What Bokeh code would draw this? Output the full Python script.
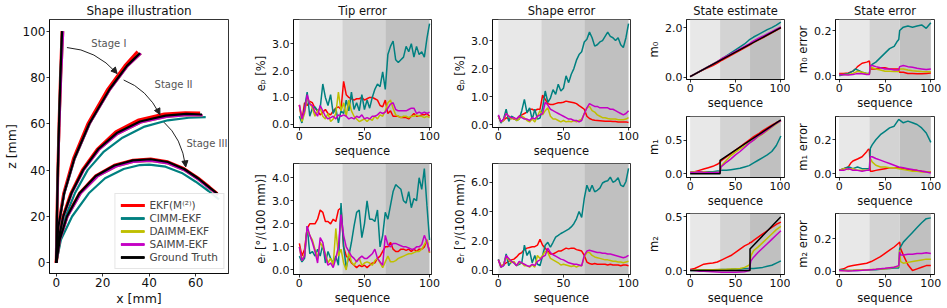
from bokeh.plotting import figure
from bokeh.layouts import row, column
from bokeh.models import BoxAnnotation, FixedTicker, PrintfTickFormatter, Label, Range1d, Arrow, NormalHead
from bokeh.embed import file_html
from bokeh.resources import INLINE

FONT = "DejaVu Sans"
RED, TEAL, YEL, MAG, BLK = "#ff0000", "#008080", "#bfbf00", "#c400c4", "#000000"
NAMES = ["EKF(M⁽²⁾)", "CIMM-EKF", "DAIMM-EKF", "SAIMM-EKF", "Ground Truth"]
STAGE_EDGES = [0, 33, 66, 100]
STAGE_FILLS = ["#e8e8e8", "#d3d3d3", "#c0c0c0"]
SEQ_TICKS = [0, 50, 100]

# ---------------- time series on a 2-step grid ----------------
SEQ2 = list(range(0, 101, 2))

TIP_P_EKF = [0.72,0.16,0.80,0.70,0.85,0.80,0.60,0.50,0.35,0.45,
             0.55,0.40,0.35,0.50,0.60,0.65,0.55,1.60,1.10,1.00,
             0.95,0.90,0.95,0.95,1.00,0.90,0.95,1.00,1.00,0.95,
             0.90,0.70,0.65,0.90,0.40,0.50,0.30,0.30,0.30,0.25,
             0.25,0.25,0.20,0.30,0.40,0.30,0.30,0.35,0.35,0.40, 0.30]
TIP_P_CIMM = [0.30,0.05,0.60,1.20,0.30,0.60,0.65,0.50,0.60,1.50,
              1.00,0.70,1.10,0.40,0.60,0.05,0.50,0.40,0.90,0.50,
              1.20,0.55,0.80,0.50,1.10,0.55,0.90,0.60,1.00,1.30,
              1.50,1.40,1.95,1.30,2.60,2.90,3.10,2.40,2.30,2.40,
              2.50,2.90,2.70,3.00,2.50,2.90,2.60,2.70,2.50,3.20, 3.75]
TIP_P_DAIMM = [0.70,0.10,0.40,1.00,0.80,0.60,0.30,0.50,0.60,0.30,
               0.20,0.40,0.10,0.20,0.40,1.20,0.50,0.80,0.30,0.90,
               0.50,0.30,0.20,0.10,0.15,0.20,0.10,0.20,0.15,0.30,
               0.20,0.35,0.30,0.50,0.80,0.90,0.60,0.35,0.30,0.25,
               0.30,0.30,0.25,0.30,0.30,0.35,0.30,0.30,0.25,0.30, 0.25]
TIP_P_SAIMM = [0.72,0.20,0.50,1.10,0.75,0.70,0.45,0.30,0.70,0.50,
               0.30,0.20,0.25,0.30,0.20,0.35,0.30,0.35,0.30,0.20,
               0.25,0.20,0.30,0.25,0.35,0.20,0.25,0.20,0.30,0.30,
               0.35,0.45,0.40,0.45,0.60,0.75,0.80,0.55,0.50,0.50,
               0.50,0.50,0.55,0.60,0.60,0.40,0.45,0.40,0.45,0.40, 0.45]

TIP_R_EKF = [1.15,0.60,0.90,1.80,2.00,2.00,2.00,2.20,2.60,2.50,
             2.10,2.10,2.00,2.20,2.10,2.60,2.70,1.00,0.60,0.50,
             0.30,0.20,0.10,0.20,0.15,0.20,0.10,0.20,0.30,0.30,
             0.50,0.60,0.80,1.00,1.00,1.20,0.90,0.80,0.80,0.90,
             0.90,0.85,0.90,0.80,0.90,0.80,0.90,0.90,1.00,1.30, 0.75]
TIP_R_CIMM = [0.60,0.35,0.50,1.90,0.70,0.80,0.60,0.90,0.60,1.10,
              0.30,0.80,0.50,0.30,0.60,0.20,2.90,1.00,0.10,0.60,
              1.20,1.90,2.50,2.60,1.40,2.00,3.00,2.20,2.20,2.10,
              2.60,1.00,1.50,2.50,2.20,2.80,3.40,3.70,3.60,3.50,
              3.00,2.90,3.40,2.70,3.10,3.00,4.00,3.50,4.40,2.80, 1.30]
TIP_R_DAIMM = [1.00,0.40,0.70,1.80,1.50,1.30,0.90,0.50,1.20,1.00,
               0.70,0.30,0.50,0.20,1.80,0.60,0.90,0.30,0.00,0.80,
               0.35,0.20,0.40,0.50,0.20,0.30,0.35,0.30,0.20,0.40,
               0.50,0.30,0.10,0.35,0.60,0.35,0.35,0.40,0.50,0.55,
               0.60,0.65,0.70,0.70,0.75,0.80,0.80,0.90,1.10,1.30, 0.75]
TIP_R_SAIMM = [1.00,0.40,0.60,1.90,1.50,1.20,0.80,0.30,1.40,1.20,
               0.60,0.20,0.30,0.10,0.50,1.00,2.40,1.50,1.00,0.80,
               0.60,0.50,0.35,0.50,0.60,0.50,0.50,0.60,0.70,0.90,
               0.50,0.35,0.20,1.50,1.10,1.00,1.15,1.15,1.10,1.05,
               1.00,1.00,0.95,0.90,0.90,1.00,1.00,1.10,1.50,1.20, 0.80]

SHP_P_EKF = [0.30,0.10,0.15,0.25,0.20,0.25,0.20,0.20,0.30,0.35,
             0.40,0.45,0.55,0.55,0.50,0.55,0.55,1.05,0.90,0.75,
             0.72,0.72,0.75,0.78,0.78,0.80,0.84,0.82,0.80,0.78,
             0.75,0.68,0.62,0.55,0.30,0.22,0.18,0.16,0.15,0.14,
             0.13,0.12,0.12,0.12,0.11,0.11,0.10,0.10,0.10,0.10, 0.08]
SHP_P_CIMM = [0.32,0.06,0.20,0.55,0.12,0.30,0.25,0.15,0.20,0.50,
              0.90,0.42,0.60,0.18,0.55,0.20,0.24,0.60,1.20,0.80,
              0.95,1.25,1.08,1.44,1.20,1.30,1.74,1.50,1.80,2.00,
              2.30,2.50,2.60,2.95,3.05,3.30,3.10,2.80,2.85,2.95,
              3.00,3.15,3.30,3.15,3.10,3.00,3.10,2.85,2.75,3.10, 3.60]
SHP_P_DAIMM = [0.30,0.10,0.15,0.40,0.30,0.20,0.25,0.15,0.20,0.30,
               0.25,0.15,0.10,0.20,0.10,0.30,0.50,0.35,0.50,0.60,
               0.30,0.20,0.20,0.15,0.10,0.15,0.10,0.12,0.10,0.15,
               0.10,0.15,0.20,0.40,0.60,0.65,0.50,0.45,0.35,0.30,
               0.25,0.25,0.22,0.20,0.20,0.20,0.18,0.18,0.18,0.20, 0.25]
SHP_P_SAIMM = [0.35,0.10,0.20,0.40,0.30,0.25,0.25,0.20,0.30,0.25,
               0.20,0.20,0.15,0.25,0.20,0.30,0.35,0.40,0.80,0.70,
               0.55,0.50,0.45,0.40,0.35,0.30,0.25,0.20,0.20,0.15,
               0.15,0.10,0.15,0.40,0.60,0.75,0.70,0.65,0.65,0.60,
               0.60,0.60,0.60,0.55,0.55,0.50,0.45,0.40,0.35,0.40, 0.50]

SHP_R_EKF = [0.70,0.30,0.35,0.50,0.60,0.70,0.75,0.90,1.10,1.20,
             1.40,1.50,1.55,1.60,1.60,1.70,2.10,1.70,1.50,1.30,
             1.10,1.10,1.20,1.30,1.30,1.40,1.50,1.45,1.50,1.50,
             1.40,1.35,1.30,1.00,0.55,0.45,0.40,0.45,0.40,0.40,
             0.40,0.40,0.35,0.40,0.35,0.35,0.35,0.30,0.35,0.35, 0.30]
SHP_R_CIMM = [0.75,0.20,0.30,1.10,0.30,0.60,0.50,0.30,0.40,0.50,
              1.70,1.00,1.33,0.50,1.00,0.40,0.30,1.00,1.70,1.90,
              1.56,1.90,2.25,2.37,2.50,2.60,2.70,2.80,2.95,3.17,
              3.50,4.00,3.60,4.90,5.80,5.35,5.80,5.35,5.45,5.60,
              5.95,6.05,6.10,6.35,6.00,6.10,6.30,5.80,5.70,6.05, 6.95]
SHP_R_DAIMM = [0.70,0.20,0.40,0.90,0.70,0.50,0.60,0.30,0.50,0.50,
               0.30,0.30,0.20,0.35,0.20,1.00,0.80,1.00,1.30,1.20,
               0.80,0.70,0.60,0.50,0.35,0.40,0.35,0.30,0.25,0.30,
               0.20,0.30,0.30,0.90,1.20,1.20,1.00,0.90,0.85,0.80,
               0.75,0.70,0.70,0.65,0.60,0.60,0.55,0.55,0.50,0.55, 0.60]
SHP_R_SAIMM = [0.70,0.20,0.30,1.00,0.80,0.60,0.50,0.30,0.60,0.50,
               0.40,0.30,0.25,0.40,0.30,0.60,0.70,0.90,1.00,1.50,
               1.20,1.05,0.95,0.85,0.75,0.70,0.60,0.50,0.45,0.40,
               0.40,0.35,0.30,1.00,1.30,1.35,1.30,1.25,1.20,1.20,
               1.15,1.15,1.10,1.10,1.05,1.00,0.95,0.90,0.85,0.90, 1.00]

# ---------------- state estimates ----------------
M0_SEQ = list(range(0, 101, 5))
M0_GT_SEQ = [0, 100]
M0_GT = [0.02, 2.0]
M0_EKF = [0.02,0.11,0.21,0.30,0.38,0.46,0.56,0.68,0.78,0.88,0.98,1.08,1.18,1.28,1.40,1.50,1.59,1.69,1.79,1.89,1.99]
M0_CIMM = [0.02,0.12,0.22,0.32,0.42,0.52,0.62,0.74,0.86,0.98,1.10,1.22,1.34,1.50,1.62,1.72,1.82,1.92,2.00,2.10,2.22]
M0_DAIMM = [0.02,0.12,0.22,0.32,0.42,0.52,0.62,0.74,0.83,0.93,1.02,1.12,1.22,1.32,1.43,1.53,1.63,1.72,1.82,1.92,2.02]
M0_SAIMM = [0.02,0.12,0.22,0.32,0.42,0.52,0.62,0.75,0.84,0.94,1.04,1.14,1.24,1.34,1.46,1.56,1.65,1.75,1.84,1.94,2.03]

M1_SEQ = [0,5,10,15,20,25,30,33,34,40,45,50,55,60,65,70,75,80,85,90,95,100]
M1_GT_SEQ = [0, 33, 33, 100]
M1_GT = [0.0, 0.0, 0.2, 0.8]
M1_EKF = [0.02,0.03,0.05,0.07,0.09,0.11,0.14,0.17,0.19,0.25,0.30,0.35,0.40,0.45,0.50,0.55,0.59,0.64,0.68,0.72,0.76,0.79]
M1_CIMM = [0.02,0.03,0.03,0.03,0.03,0.03,0.04,0.04,0.05,0.05,0.06,0.07,0.08,0.10,0.12,0.16,0.20,0.24,0.28,0.33,0.42,0.56]
M1_DAIMM = [0.02,0.03,0.02,0.03,0.02,0.02,0.02,0.02,0.11,0.20,0.27,0.32,0.37,0.41,0.46,0.50,0.55,0.59,0.64,0.69,0.74,0.79]
M1_SAIMM = [0.02,0.02,0.03,0.02,0.02,0.015,0.02,0.02,0.10,0.17,0.22,0.28,0.33,0.39,0.45,0.50,0.56,0.60,0.65,0.70,0.75,0.79]

M2_SEQ = [0,5,10,15,20,25,30,35,40,45,50,55,60,65,66,67,70,75,80,85,90,95,100]
M2_GT_SEQ = [0, 66, 66, 100]
M2_GT = [0.0, 0.0, 0.2, 0.5]
M2_EKF = [0.01,0.02,0.04,0.06,0.065,0.07,0.08,0.10,0.12,0.14,0.17,0.20,0.23,0.25,0.26,0.26,0.28,0.31,0.34,0.37,0.40,0.43,0.45]
M2_CIMM = [0.0,0.0,0.005,0.005,0.005,0.005,0.008,0.01,0.01,0.012,0.015,0.015,0.02,0.02,0.02,0.02,0.02,0.025,0.03,0.04,0.05,0.07,0.09]
M2_DAIMM = [0.005,0.005,0.005,0.005,0.008,0.008,0.01,0.01,0.012,0.015,0.015,0.02,0.03,0.05,0.07,0.14,0.185,0.22,0.26,0.30,0.34,0.38,0.41]
M2_SAIMM = [0.005,0.0,-0.005,-0.005,-0.008,-0.01,-0.012,-0.015,-0.015,-0.015,-0.015,-0.012,-0.01,0.0,0.05,0.09,0.125,0.17,0.21,0.25,0.29,0.33,0.37]

# ---------------- state errors ----------------
E0_SEQ = [0,5,10,15,18,20,25,30,33,34,36,40,45,50,55,60,63,65,66,70,75,80,85,90,95,100]
E0_EKF = [0.01,0.01,0.012,0.02,0.03,0.04,0.055,0.06,0.065,0.03,0.03,0.03,0.035,0.035,0.03,0.03,0.03,0.03,0.015,0.015,0.01,0.01,0.008,0.008,0.01,0.012]
E0_CIMM = [0.0,0.005,0.01,0.02,0.03,0.025,0.015,0.01,0.01,0.04,0.05,0.06,0.08,0.10,0.12,0.13,0.15,0.16,0.20,0.215,0.22,0.215,0.22,0.225,0.21,0.235]
E0_DAIMM = [0.005,0.005,0.005,0.01,0.015,0.02,0.015,0.01,0.008,0.04,0.035,0.03,0.025,0.02,0.02,0.018,0.018,0.018,0.03,0.03,0.025,0.022,0.02,0.018,0.017,0.017]
E0_SAIMM = [0.005,0.004,0.003,0.005,0.008,0.01,0.008,0.005,0.005,0.045,0.045,0.04,0.035,0.03,0.03,0.025,0.025,0.025,0.04,0.045,0.04,0.037,0.033,0.03,0.027,0.03]

E1_SEQ = [0,5,10,13,15,20,25,30,32,33,34,36,40,45,50,55,60,65,70,75,80,85,90,95,100]
E1_EKF = [0.02,0.03,0.04,0.065,0.075,0.087,0.10,0.13,0.145,0.14,0.015,0.015,0.02,0.025,0.03,0.035,0.035,0.035,0.03,0.025,0.02,0.02,0.015,0.012,0.01]
E1_CIMM = [0.02,0.03,0.04,0.035,0.03,0.04,0.03,0.03,0.03,0.03,0.15,0.17,0.20,0.23,0.25,0.27,0.28,0.32,0.30,0.31,0.30,0.29,0.27,0.24,0.185]
E1_DAIMM = [0.02,0.03,0.025,0.03,0.03,0.02,0.02,0.02,0.02,0.02,0.09,0.07,0.05,0.04,0.04,0.035,0.035,0.03,0.025,0.02,0.015,0.015,0.01,0.01,0.01]
E1_SAIMM = [0.02,0.02,0.03,0.025,0.02,0.02,0.015,0.02,0.02,0.02,0.10,0.10,0.09,0.08,0.07,0.06,0.05,0.04,0.035,0.03,0.025,0.02,0.015,0.01,0.005]

E2_SEQ = [0,5,10,15,20,25,30,35,40,45,50,55,60,65,66,67,70,75,80,85,90,95,100]
E2_EKF = [0.01,0.015,0.03,0.035,0.04,0.045,0.05,0.06,0.075,0.09,0.11,0.13,0.15,0.175,0.18,0.14,0.10,0.04,0.005,0.015,0.025,0.035,0.035]
E2_CIMM = [0.01,0.008,0.005,0.005,0.005,0.006,0.008,0.009,0.01,0.012,0.015,0.017,0.02,0.02,0.14,0.15,0.18,0.21,0.24,0.27,0.30,0.325,0.33]
E2_DAIMM = [0.005,0.005,0.005,0.006,0.008,0.009,0.01,0.011,0.012,0.014,0.015,0.02,0.025,0.03,0.13,0.06,0.05,0.055,0.06,0.065,0.07,0.075,0.075]
E2_SAIMM = [0.005,0.003,0.002,0.003,0.005,0.006,0.008,0.01,0.012,0.015,0.018,0.022,0.025,0.035,0.12,0.10,0.10,0.105,0.105,0.11,0.11,0.115,0.11]

# ---------------- shape illustration (4 stages per method) ----------------
GT_X = [[0,0.3,0.7,1.2,1.8,2.5],
        [0,0.8,3.4,7.8,14.2,23.0,30.4,36.0],
        [0,1,3,6.5,11.5,18,26,36,47,56,62.7],
        [0,1.5,4.6,10,17,25,33,40.6,48,55,61,66,69.5]]
GT_Z = [[0,20,40,60,80,100],
        [0,15,30,45,60,75,85,90.5],
        [0,10,20,30,40,49,56,61,63.5,64.3,64],
        [0,10,20,30,37.5,42,44.2,44.7,43.5,40.5,36.5,32.5,29.7]]
EKF_X = [[0,0.3,0.7,1.2,1.8,2.5],
         [0,0.8,3.2,7.4,13.6,22.2,29.5,35.0],
         [0,1,2.9,6.3,11.2,17.6,25.6,35.5,46.5,55.5,61.9],
         [0,1.5,4.6,10,17,25,33,40.6,48,55,61,66,69.3]]
EKF_Z = [[0,20,40,60,80,100],
         [0,15,30,45,60,75,85,91.2],
         [0,10,20,30,40,49,56.5,61.7,64.2,64.8,64.7],
         [0,10,20,30,37.6,42.1,44.3,44.8,43.6,40.6,36.6,32.6,29.9]]
CIMM_X = [[0,0.3,0.7,1.2,1.8,2.5],
          [0,0.85,3.5,8.0,14.4,23.2,30.6,36.2],
          [0,1.3,4,8,13.5,20.5,28.5,38,48,57,64.3],
          [0,2,6.8,14,21,29,36,40,47,54,60,65.5,70]]
CIMM_Z = [[0,20,40,60,80,99.8],
          [0,15,30,45,60,75,85,90.3],
          [0,10,20,30,40,48,54,58.8,61.5,62.6,62.9],
          [0,10,20,30,36.5,40.5,42.2,42.4,41.5,38.8,35,31,27.4]]
DAIMM_X = [[0,0.35,0.8,1.4,2.1,3.0],
           [0,0.8,3.4,7.9,14.4,23.3,30.8,36.5],
           [0,1,3.1,6.7,11.8,18.4,26.4,36.4,47.4,56.4,63],
           [0,1.6,4.9,10.6,17.8,25.8,33.5,40.6,48,55,61,66,69.5]]
DAIMM_Z = [[0,20,40,60,80,100],
           [0,15,30,45,60,75,85,90.3],
           [0,10,20,30,40,48.8,55.6,60.6,63,63.7,63.6],
           [0,10,20,30,37.3,41.6,43.6,44.0,42.9,40,36,32,29.2]]
SAIMM_X = [[0,0.35,0.8,1.4,2.1,3.0],
           [0,0.8,3.4,7.9,14.4,23.3,30.8,36.5],
           [0,1,3.1,6.7,11.8,18.4,26.4,36.4,47.4,56.4,63],
           [0,1.6,4.9,10.6,17.8,25.8,33.5,40.6,48,55,61,66,69.6]]
SAIMM_Z = [[0,20,40,60,80,100],
           [0,15,30,45,60,75,85,90.3],
           [0,10,20,30,40,48.8,55.6,60.6,63,63.7,63.6],
           [0,10,20,30,37.3,41.6,43.6,44.0,42.9,40,36,32,29.3]]

STAGE_LABELS = ["Stage I", "Stage II", "Stage III"]
STAGE_LX = [15.1, 42.3, 56.0]
STAGE_LZ = [94.6, 77.0, 51.7]
ARROW_X0 = [4.6, 29.0, 46.3]
ARROW_Z0 = [92.9, 78.9, 60.7]
ARROW_X1 = [26.2, 44.6, 55.7]
ARROW_Z1 = [81.7, 64.0, 41.4]
ARROW_CX = [17.0, 39.0, 54.0]
ARROW_CZ = [92.0, 75.0, 54.0]


def base_fig(w, h, bl, br, bt, bb, xr, yr, tick_fs, lab_fs, title=None, title_fs="12px"):
    p = figure(width=w, height=h, x_range=Range1d(*xr), y_range=Range1d(*yr),
               output_backend="svg", toolbar_location=None,
               min_border_left=bl, min_border_right=br,
               min_border_top=bt, min_border_bottom=bb)
    if title:
        p.title.text = title
        p.title.text_font = FONT
        p.title.text_font_size = title_fs
        p.title.text_font_style = "normal"
        p.title.text_color = "#111111"
        p.title.align = "center"
        p.title.standoff = 3
    p.xgrid.visible = False
    p.ygrid.visible = False
    p.outline_line_color = "black"
    p.outline_line_width = 0.8
    p.outline_line_alpha = 1.0
    for ax in p.axis:
        ax.axis_line_color = "black"
        ax.axis_line_width = 0.8
        ax.major_tick_line_color = "black"
        ax.major_tick_line_width = 0.8
        ax.major_tick_out = 3
        ax.major_tick_in = 0
        ax.minor_tick_line_color = None
        ax.major_label_text_font = FONT
        ax.major_label_text_font_size = tick_fs
        ax.major_label_text_color = "#111111"
        ax.axis_label_text_font = FONT
        ax.axis_label_text_font_size = lab_fs
        ax.axis_label_text_font_style = "normal"
        ax.axis_label_text_color = "#111111"
        ax.major_label_standoff = 1
        ax.axis_label_standoff = 1
    return p


def ts_fig(w, h, bl, br, bt, bb, xr, yr, yticks, yfmt, ylabel, title=None):
    p = base_fig(w, h, bl, br, bt, bb, xr, yr, "11px", "11.5px", title, "11.5px")
    for i in range(3):
        p.add_layout(BoxAnnotation(left=STAGE_EDGES[i], right=STAGE_EDGES[i + 1],
                                   fill_color=STAGE_FILLS[i], fill_alpha=1.0,
                                   line_alpha=0, level="underlay"))
    p.xaxis.ticker = FixedTicker(ticks=SEQ_TICKS)
    p.yaxis.ticker = FixedTicker(ticks=yticks)
    p.yaxis.formatter = PrintfTickFormatter(format=yfmt)
    p.xaxis.axis_label = "sequence"
    p.yaxis.axis_label = ylabel
    return p


def draw_series(p, xs, series, lw=1.5):
    for ys, c in zip(series, [RED, TEAL, YEL, MAG]):
        p.line(xs, ys, color=c, line_width=lw)


XR_ERR = (-4.5, 101.5)
XR_ST = (-4.0, 104.0)

# column 2: tip error
tip_p = ts_fig(200, 160, 53, 9, 19, 32, XR_ERR, (-0.12, 3.9), [0, 1, 2, 3], "%.1f", "eₚ [%]", "Tip error")
draw_series(tip_p, SEQ2, [TIP_P_EKF, TIP_P_CIMM, TIP_P_DAIMM, TIP_P_SAIMM])
tip_r = ts_fig(200, 148, 53, 9, 3, 34, XR_ERR, (-0.2, 4.62), [0, 1, 2, 3, 4], "%.1f", "eᵣ [°/(100 mm)]")
draw_series(tip_r, SEQ2, [TIP_R_EKF, TIP_R_CIMM, TIP_R_DAIMM, TIP_R_SAIMM])

# column 3: shape error
shp_p = ts_fig(200, 160, 52, 10, 19, 32, XR_ERR, (-0.1, 3.75), [0, 1, 2, 3], "%.1f", "eₚ [%]", "Shape error")
draw_series(shp_p, SEQ2, [SHP_P_EKF, SHP_P_CIMM, SHP_P_DAIMM, SHP_P_SAIMM])
shp_r = ts_fig(200, 148, 52, 10, 3, 34, XR_ERR, (-0.3, 7.28), [0, 2, 4, 6], "%.1f", "eᵣ [°/(100 mm)]")
draw_series(shp_r, SEQ2, [SHP_R_EKF, SHP_R_CIMM, SHP_R_DAIMM, SHP_R_SAIMM])

# column 4: state estimate
st0 = ts_fig(150, 112, 46, 6, 19, 29, XR_ST, (-0.1, 2.33), [0, 2], "%.1f", "m₀", "State estimate")
draw_series(st0, M0_SEQ, [M0_EKF, M0_CIMM, M0_DAIMM, M0_SAIMM])
st0.line(M0_GT_SEQ, M0_GT, color=BLK, line_width=1.5)
st1 = ts_fig(150, 98, 46, 6, 4, 31, XR_ST, (-0.056, 0.85), [0, 0.5], "%.1f", "m₁")
draw_series(st1, M1_SEQ, [M1_EKF, M1_CIMM, M1_DAIMM, M1_SAIMM])
st1.line(M1_GT_SEQ, M1_GT, color=BLK, line_width=1.5)
st2 = ts_fig(150, 98, 46, 6, 3, 34, XR_ST, (-0.036, 0.53), [0, 0.5], "%.1f", "m₂")
draw_series(st2, M2_SEQ, [M2_EKF, M2_CIMM, M2_DAIMM, M2_SAIMM])
st2.line(M2_GT_SEQ, M2_GT, color=BLK, line_width=1.5)

# column 5: state error
er0 = ts_fig(157, 112, 45, 13, 19, 29, XR_ST, (-0.017, 0.249), [0, 0.2], "%.1f", "m₀ error", "State error")
draw_series(er0, E0_SEQ, [E0_EKF, E0_CIMM, E0_DAIMM, E0_SAIMM])
er1 = ts_fig(157, 98, 45, 13, 4, 31, XR_ST, (-0.022, 0.337), [0, 0.2], "%.1f", "m₁ error")
draw_series(er1, E1_SEQ, [E1_EKF, E1_CIMM, E1_DAIMM, E1_SAIMM])
er2 = ts_fig(157, 98, 45, 13, 3, 34, XR_ST, (-0.02, 0.357), [0, 0.2], "%.1f", "m₂ error")
draw_series(er2, E2_SEQ, [E2_EKF, E2_CIMM, E2_DAIMM, E2_SAIMM])

# column 1: shape illustration
XR_SH = (-2.9, 74.1)
YR_SH = (-4.6, 105.0)
sh = base_fig(240, 308, 49, 12, 18, 34, XR_SH, YR_SH, "12px", "12.5px", "Shape illustration", "12px")
sh.xaxis.ticker = FixedTicker(ticks=[0, 20, 40, 60])
sh.yaxis.ticker = FixedTicker(ticks=[0, 20, 40, 60, 80, 100])
sh.xaxis.axis_label = "x [mm]"
sh.yaxis.axis_label = "z [mm]"

for xs_all, zs_all, c, name, lw in [(EKF_X, EKF_Z, RED, NAMES[0], 3.0),
                                    (CIMM_X, CIMM_Z, TEAL, NAMES[1], 2.2),
                                    (DAIMM_X, DAIMM_Z, YEL, NAMES[2], 2.2),
                                    (SAIMM_X, SAIMM_Z, MAG, NAMES[3], 2.2),
                                    (GT_X, GT_Z, BLK, NAMES[4], 2.2)]:
    for xs, zs in zip(xs_all, zs_all):
        sh.line(xs, zs, color=c, line_width=lw, legend_label=name)

for i in range(3):
    sh.quadratic(x0=[ARROW_X0[i]], y0=[ARROW_Z0[i]], x1=[ARROW_X1[i]], y1=[ARROW_Z1[i]],
                 cx=[ARROW_CX[i]], cy=[ARROW_CZ[i]], line_color="#222222", line_width=1.0)
    sh.add_layout(Arrow(end=NormalHead(size=6, fill_color="#222222", line_color="#222222"),
                        x_start=ARROW_X1[i] - 0.08 * (ARROW_X1[i] - ARROW_CX[i]),
                        y_start=ARROW_Z1[i] - 0.08 * (ARROW_Z1[i] - ARROW_CZ[i]),
                        x_end=ARROW_X1[i], y_end=ARROW_Z1[i], line_alpha=0.0))
    sh.add_layout(Label(x=STAGE_LX[i], y=STAGE_LZ[i], text=STAGE_LABELS[i], text_align="left",
                        text_baseline="middle", text_font=FONT, text_font_size="10px",
                        text_color="#555555"))

sh.legend.location = "bottom_right"
sh.legend.label_text_font = FONT
sh.legend.label_text_font_size = "10.5px"
sh.legend.glyph_width = 24
sh.legend.glyph_height = 12
sh.legend.label_height = 12
sh.legend.spacing = 1
sh.legend.padding = 5
sh.legend.margin = 4
sh.legend.border_line_color = "#cccccc"
sh.legend.background_fill_alpha = 0.9

layout = row(sh, column(tip_p, tip_r), column(shp_p, shp_r),
             column(st0, st1, st2), column(er0, er1, er2))

html = file_html(layout, INLINE)
html = html.replace("</head>", "<style>html, body { overflow: hidden; }</style></head>", 1)
open("out.html", "w").write(html)
